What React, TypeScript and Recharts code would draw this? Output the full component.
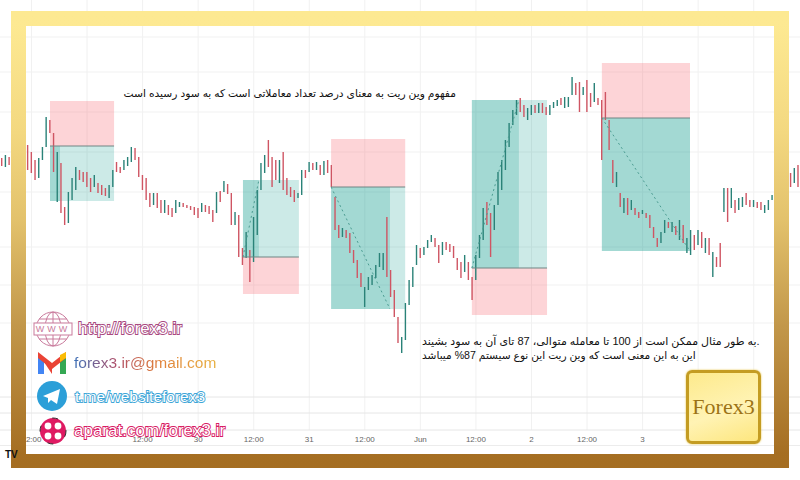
import * as React from "react";
import {
  Bar,
  CartesianGrid,
  Cell,
  ComposedChart,
  ReferenceArea,
  ReferenceLine,
  XAxis,
  YAxis,
} from "recharts";

// candle highs and lows, one per bar
const highs = [
  322, 325, 323, 323, 325, 326, 330, 335, 328, 320,
  322, 333, 363, 360, 347, 328, 317, 273, 288, 302,
  313, 310, 308, 308, 302, 305, 297, 295, 292, 295,
  310, 318, 313, 320, 323, 333, 332, 323, 305, 302,
  287, 287, 287, 280, 280, 275, 272, 280, 278, 277,
  275, 274, 273, 272, 277, 275, 274, 270, 288, 289,
  299, 296, 287, 268, 265, 232, 248, 230, 263, 290,
  317, 325, 340, 323, 320, 320, 328, 302, 293, 290,
  287, 310, 310, 318, 317, 318, 315, 319, 320, 315,
  283, 255, 252, 250, 247, 230, 220, 207, 193, 203,
  205, 215, 227, 227, 263, 210, 190, 163, 143, 177,
  200, 213, 235, 232, 233, 240, 245, 242, 235, 238,
  238, 236, 234, 222, 218, 225, 218, 203, 225, 245,
  272, 278, 267, 275, 308, 320, 340, 357, 370, 380,
  382, 375, 372, 375, 375, 377, 377, 373, 375, 378,
  380, 382, 383, 383, 403, 397, 398, 393, 400, 387,
  397, 382, 380, 388, 360, 320, 308, 287, 282, 282,
  280, 272, 268, 270, 267, 265, 253, 242, 248, 260,
  258, 258, 254, 260, 255, 242, 250, 245, 250, 248,
  242, 242, 228, 223, 237, 292, 292, 292, 280, 282,
  283, 287, 280, 280, 278, 278, 275, 280, 285, 287,
  295, 300, 305, 307, 312, 315,
];
const lows = [
  314, 313, 315, 314, 316, 317, 318, 310, 307, 300,
  302, 320, 333, 347, 308, 278, 267, 255, 257, 280,
  290, 300, 298, 293, 288, 293, 287, 285, 284, 282,
  293, 308, 307, 310, 314, 318, 320, 303, 290, 280,
  273, 275, 272, 267, 267, 265, 263, 267, 273, 273,
  272, 270, 265, 262, 268, 268, 266, 258, 267, 278,
  288, 286, 255, 255, 223, 215, 222, 198, 218, 245,
  290, 307, 313, 293, 300, 297, 290, 285, 283, 278,
  282, 285, 302, 308, 310, 310, 305, 305, 307, 293,
  250, 242, 243, 242, 227, 217, 202, 193, 173, 190,
  195, 202, 213, 210, 203, 183, 163, 137, 127, 140,
  175, 193, 215, 222, 225, 232, 238, 233, 217, 225,
  230, 228, 222, 210, 202, 208, 200, 180, 200, 222,
  240, 255, 223, 250, 275, 290, 310, 333, 355, 365,
  368, 363, 360, 365, 367, 367, 367, 365, 365, 372,
  374, 375, 372, 373, 385, 385, 368, 385, 368, 373,
  378, 375, 320, 360, 330, 297, 293, 273, 267, 265,
  270, 265, 262, 266, 262, 252, 242, 233, 237, 247,
  252, 248, 245, 240, 237, 227, 225, 230, 235, 232,
  227, 225, 203, 213, 213, 268, 258, 272, 267, 270,
  273, 275, 273, 273, 272, 270, 267, 270, 280, 280,
  285, 288, 292, 293, 297, 293,
];
// u = closed up, d = closed down
const directions = [
  "duduuuuddd", "uuuddudduu", "uddddudddu", "udduuudddd", "duddudduud",
  "ddddudddud", "uddudduduu", "uudddudddd", "uududududd", "dduddddduu",
  "uuuudddduu", "uuuduuuddu", "dddddudduu", "udduuuuuuu", "dduududduu",
  "uduuuddudd", "udddddudud", "uddudddduu", "dududuudud", "ududdududu",
  "uddudduuud", "uuudud",
].join("");

// x axis: one unit is one bar, 0 is the first 12:00 label
const firstBar = -8;
const tickBars = [0, 15, 30, 45, 60, 75, 90, 105, 120, 135, 150, 165, 180, 195];
const tickLabels = ["12:00", "", "12:00", "30", "12:00", "31", "12:00", "Jun", "12:00", "2", "12:00", "3", "", ""];

// the five long/short position tools
const tradeStart = [5, 57.1, 80.9, 118.9, 154];
const tradeFill = [7.7, 61.4, 96.8, 131.6, 177.8];
const tradeEnd = [22.3, 72.2, 100.9, 139.2, 177.8];
const entryPrice = [334, 223, 293, 212, 362];
const targetPrice = [279, 300, 171, 380, 229];
const stopPrice = [379, 186, 341, 165, 417];
const showPath = [false, true, true, true, true];

const gridPrices = [443, 408, 368, 328, 288, 233, 195, 157];
const paneLines = [83, 67];

const titleText = "مفهوم وین ریت به معنای درصد تعداد معاملاتی است که به سود رسیده است";
const bodyLineOne = "به طور مثال ممکن است از 100 تا معامله متوالی، 87 تای آن به سود بشیند.";
const bodyLineTwo = "این به این معنی است که وین ریت این نوع سیستم 87% میباشد";

const candles = highs.map((high, i) => ({
  bar: firstBar + i,
  range: [lows[i], high],
  up: directions[i] === "u",
}));

const sans = '"Liberation Sans", Arial, sans-serif';
const persian = '"Liberation Sans", "DejaVu Sans", sans-serif';

function Outlined({ left, top, size, color, children }: any) {
  return (
    <div
      style={{
        position: "absolute",
        left,
        top,
        fontFamily: sans,
        fontSize: size,
        lineHeight: "20px",
        color: "#fff",
        WebkitTextStroke: `1.8px ${color}`,
        paintOrder: "stroke fill",
        whiteSpace: "nowrap",
      }}
    >
      {children}
    </div>
  );
}

function Icons() {
  return (
    <svg width={800} height={480} style={{ position: "absolute", left: 0, top: 0 }}>
      {/* www globe */}
      <g fill="none" stroke="#c97a9c" strokeWidth={1}>
        <circle cx={53} cy={329} r={17} />
        <ellipse cx={53} cy={329} rx={8} ry={17} />
        <line x1={53} y1={312} x2={53} y2={346} />
        <line x1={39} y1={319} x2={67} y2={319} />
        <line x1={39} y1={339} x2={67} y2={339} />
      </g>
      <rect x={34} y={323} width={38} height={12} fill="#fff" stroke="#c97a9c" />
      <text x={53} y={332} textAnchor="middle" fontSize={9} fontFamily={sans} fill="#c97a9c" letterSpacing={3}>
        WWW
      </text>
      {/* gmail */}
      <path d="M38 356 L38 374 L44 374 L44 362 Z" fill="#4285f4" />
      <path d="M60 374 L66 374 L66 356 L60 362 Z" fill="#34a853" />
      <path d="M38 356 L52 367 L52 374 L44 362 Z" fill="#ea4335" />
      <path d="M38 352 L52 363 L66 352 L66 358 L52 369 L38 358 Z" fill="#ea4335" />
      <path d="M60 355 L66 352 L66 358 L60 362 Z" fill="#fbbc04" />
      {/* telegram */}
      <circle cx={52} cy={396} r={15} fill="#2c9fd8" />
      <path d="M43 396 L60 389 L57 404 L51 400 L48 403 L48 398 Z" fill="#fff" />
      {/* aparat */}
      <circle cx={53} cy={431} r={13} fill="#df1a62" />
      <circle cx={53} cy={431} r={13} fill="none" stroke="#333" strokeWidth={1} strokeDasharray="6 14" />
      <circle cx={48} cy={426} r={3.4} fill="#fff" />
      <circle cx={58} cy={426} r={3.4} fill="#fff" />
      <circle cx={48} cy={436} r={3.4} fill="#fff" />
      <circle cx={58} cy={436} r={3.4} fill="#fff" />
    </svg>
  );
}

export default function App() {
  return (
    <div style={{ position: "fixed", left: 0, top: 0, width: 800, height: 480, overflow: "hidden", background: "#fff" }}>
      <div style={{ position: "absolute", left: 0, top: 445, width: 800, height: 1, background: "#ececec" }} />
      <ComposedChart
        width={800}
        height={480}
        data={candles}
        margin={{ top: 0, right: 0, bottom: 0, left: 0 }}
      >
        <CartesianGrid
          stroke="#f1f1f1"
          horizontalValues={gridPrices}
          verticalValues={tickBars}
        />
        <XAxis
          type="number"
          dataKey="bar"
          domain={[-8.5, 207.5]}
          allowDataOverflow
          ticks={tickBars}
          tickFormatter={(v: number) => tickLabels[tickBars.indexOf(v)]}
          tick={{ fontSize: 8, fill: "#666", fontFamily: sans }}
          tickLine={false}
          axisLine={{ stroke: "#e6e6e6" }}
          height={50}
          interval={0}
          tickMargin={0}
        />
        <YAxis hide type="number" domain={[50, 480]} allowDataOverflow />
        {paneLines.map((p) => (
          <ReferenceLine key={p} y={p} stroke="#e6e6e6" />
        ))}
        {tradeStart.map((start, i) => (
          <React.Fragment key={i}>
            <ReferenceArea x1={start} x2={tradeEnd[i]} y1={entryPrice[i]} y2={stopPrice[i]} fill="#f7525f" fillOpacity={0.25} stroke="none" />
            <ReferenceArea x1={start} x2={tradeEnd[i]} y1={entryPrice[i]} y2={targetPrice[i]} fill="#009688" fillOpacity={0.2} stroke="none" />
            <ReferenceArea x1={start} x2={tradeFill[i]} y1={entryPrice[i]} y2={targetPrice[i]} fill="#009688" fillOpacity={0.2} stroke="none" />
            <ReferenceLine
              segment={[
                { x: start, y: entryPrice[i] },
                { x: tradeEnd[i], y: entryPrice[i] },
              ]}
              stroke="#6f8583"
            />
            {showPath[i] && (
              <ReferenceLine
                segment={[
                  { x: start, y: entryPrice[i] },
                  { x: tradeFill[i], y: targetPrice[i] },
                ]}
                stroke="#4c9c92"
                strokeDasharray="2 3"
              />
            )}
          </React.Fragment>
        ))}
        <Bar dataKey="range" barSize={1.4} isAnimationActive={false}>
          {candles.map((c) => (
            <Cell key={c.bar} fill={c.up ? "#2a8278" : "#cf5563"} />
          ))}
        </Bar>
      </ComposedChart>

      {/* gold frame */}
      <div
        style={{
          position: "absolute",
          left: 11,
          top: 11,
          width: 748,
          height: 428,
          borderStyle: "solid",
          borderWidth: "15px 15px 14px 15px",
          borderImage: "linear-gradient(#fde992, #f3d880 25%, #e3c26c 45%, #c2974a 70%, #a56e22) 1",
        }}
      />

      <div style={{ position: "absolute", left: 5, top: 449, fontFamily: sans, fontWeight: 700, fontSize: 10, color: "#111" }}>TV</div>

      <div dir="rtl" style={{ position: "absolute", left: 124, top: 85, width: 332, fontFamily: persian, fontSize: 10.7, lineHeight: "16px", color: "#111", whiteSpace: "nowrap" }}>
        {titleText}
      </div>
      <div dir="ltr" style={{ position: "absolute", left: 422, top: 334, fontFamily: persian, fontSize: 11, lineHeight: "14px", color: "#111", whiteSpace: "nowrap" }}>
        {bodyLineOne}
      </div>
      <div dir="ltr" style={{ position: "absolute", left: 422, top: 348, fontFamily: persian, fontSize: 10.6, lineHeight: "14px", color: "#111", whiteSpace: "nowrap" }}>
        {bodyLineTwo}
      </div>

      <Icons />
      <Outlined left={78} top={319} size={17} color="#a8487f">http://forex3.ir</Outlined>
      <div
        style={{
          position: "absolute",
          left: 74,
          top: 353,
          fontFamily: sans,
          fontSize: 15.5,
          lineHeight: "20px",
          whiteSpace: "nowrap",
          background: "linear-gradient(90deg, #3b6fb6, #b0506a 30%, #e0803a 60%, #e8b040)",
          WebkitBackgroundClip: "text",
          backgroundClip: "text",
          color: "transparent",
        }}
      >
        forex3.ir@gmail.com
      </div>
      <Outlined left={75} top={387} size={15.5} color="#3fa6d8">t.me/websiteforex3</Outlined>
      <Outlined left={74} top={421} size={17} color="#d81b64">aparat.com/forex3.ir</Outlined>

      {/* logo */}
      <div
        style={{
          position: "absolute",
          left: 686,
          top: 370,
          width: 69,
          height: 68,
          border: "3px solid #c49c22",
          borderRadius: 6,
          background: "linear-gradient(160deg, #fdea8c, #fff3b4 55%, #fde67e)",
          boxShadow: "0 0 2px #e2bc2c",
          textAlign: "center",
          fontFamily: '"Liberation Serif", serif',
          fontSize: 22,
          lineHeight: "68px",
          color: "#9c7316",
        }}
      >
        Forex3
      </div>
    </div>
  );
}
